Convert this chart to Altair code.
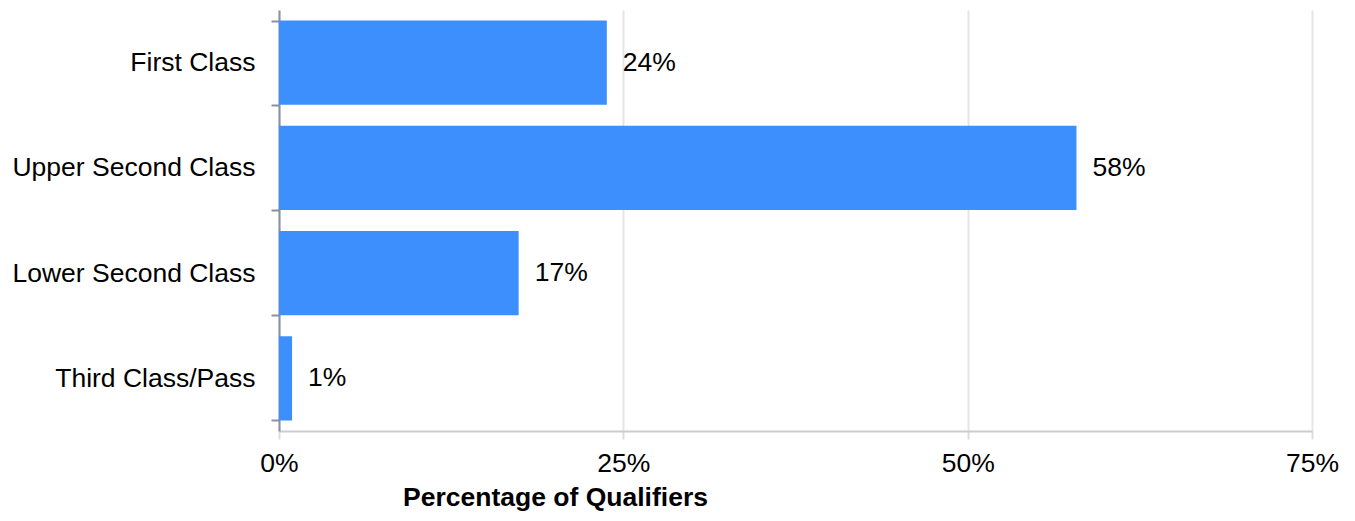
import altair as alt
import pandas as pd

categories = ["First Class", "Upper Second Class", "Lower Second Class", "Third Class/Pass"]
values = [23.8, 57.9, 17.4, 0.95]
labels = ["24%", "58%", "17%", "1%"]

df = pd.DataFrame({"cat": categories, "val": values, "lab": labels})

FONT = "Liberation Sans"
FS = 26.5

y_enc = alt.Y("cat:N", sort=categories, title=None,
              scale=alt.Scale(paddingInner=0.2, paddingOuter=0.1),
              axis=alt.Axis(labelFont=FONT, labelFontSize=FS, labelColor="#000000",
                            labelPadding=16, labelLimit=0,
                            domainColor="#8a8fa6", domainWidth=2,
                            tickColor="#8a8fa6", tickWidth=2, tickSize=8,
                            tickBand="extent", grid=False))

x_enc = alt.X("val:Q", title="Percentage of Qualifiers",
              scale=alt.Scale(domain=[0, 75], nice=False),
              axis=alt.Axis(values=[0, 25, 50, 75], labelExpr="datum.value + '%'",
                            labelFont=FONT, labelFontSize=FS, labelColor="#000000",
                            labelPadding=11, labelFlush=False, labelOverlap=False,
                            titleFont=FONT, titleFontSize=FS, titleFontWeight="bold",
                            titleColor="#000000", titleX=276, titleY=74,
                            titleAlign="center", titleBaseline="alphabetic",
                            domainColor="#cccccc", domainWidth=2,
                            tickColor="#dddddd", tickWidth=2, tickSize=8,
                            gridColor="#e6e6e6", gridWidth=2))

bars = alt.Chart(df).mark_bar(color="#3d8ffd").encode(x=x_enc, y=y_enc)
text = alt.Chart(df).mark_text(align="left", baseline="middle", dx=16,
                               font=FONT, fontSize=FS, color="#000000").encode(
    x="val:Q", y=alt.Y("cat:N", sort=categories), text="lab:N")

chart = (bars + text).properties(
    width=1033, height=421,
    autosize=alt.AutoSizeParams(type="none"),
    padding={"left": 271, "top": 2, "right": 35, "bottom": 82},
).configure_view(stroke=None)

chart.save("out.html", embed_options={"renderer": "svg", "actions": False})
